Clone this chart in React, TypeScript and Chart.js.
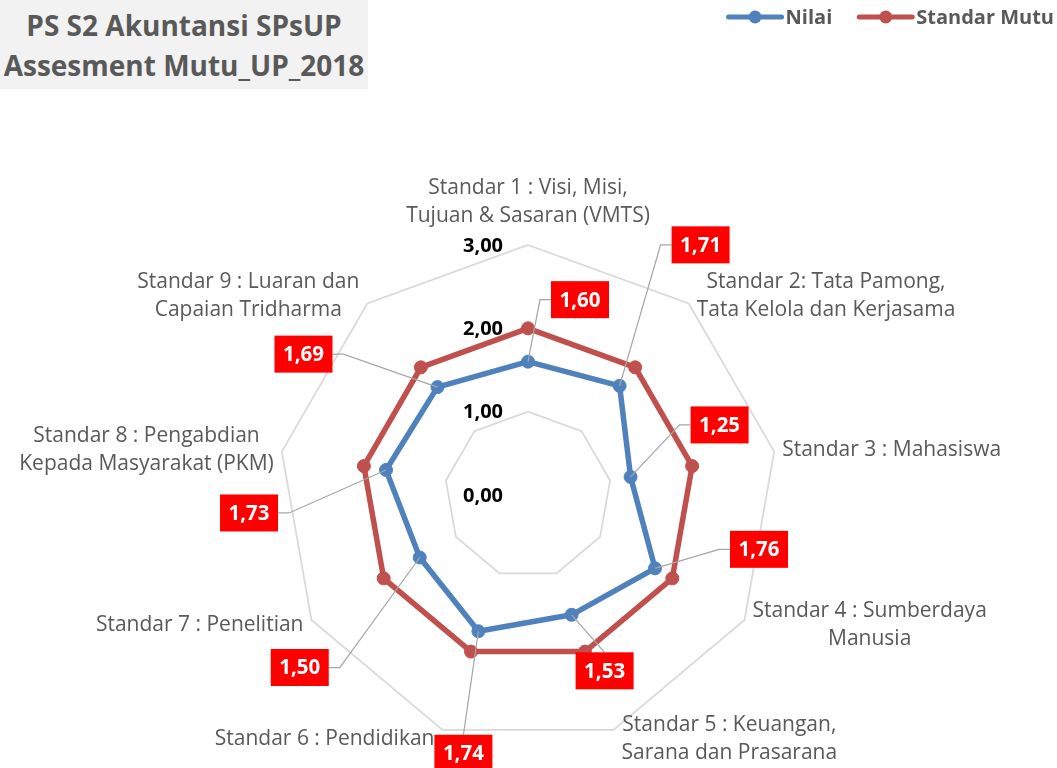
import React, { useEffect, useRef } from 'react';
import { Chart, registerables } from 'chart.js';

Chart.register(...registerables);

// ---- data ----
const categories: string[][] = [
  ['Standar 1 : Visi, Misi,', 'Tujuan & Sasaran (VMTS)'],
  ['Standar 2: Tata Pamong,', 'Tata Kelola dan Kerjasama'],
  ['Standar 3 : Mahasiswa'],
  ['Standar 4 : Sumberdaya', 'Manusia'],
  ['Standar 5 : Keuangan,', 'Sarana dan Prasarana'],
  ['Standar 6 : Pendidikan'],
  ['Standar 7 : Penelitian'],
  ['Standar 8 : Pengabdian', 'Kepada Masyarakat (PKM)'],
  ['Standar 9 : Luaran dan', 'Capaian Tridharma'],
];
const seriesNames = ['Nilai', 'Standar Mutu'];
const nilaiValues = [1.6, 1.71, 1.25, 1.76, 1.53, 1.74, 1.5, 1.73, 1.69];
const standarMutuValues = [2, 2, 2, 2, 2, 2, 2, 2, 2];
const tickMin = 0;
const tickMax = 3;
const tickStep = 1;

// ---- layout of data-label callouts (pixel offset from the point) ----
const labelOffsets: [number, number][] = [
  [52, -62],
  [81, -141],
  [89, -52],
  [104, -19],
  [33, 56],
  [-15, 122],
  [-120, 110],
  [-137, 43],
  [-134, -33],
];

const FONT = '"Open Sans", "Noto Sans", sans-serif';
const BLUE = '#4f81bd';
const RED = '#c0504d';
const fmt = (v: number) => v.toFixed(2).replace('.', ',');

const overlayPlugin = {
  id: 'overlay',
  beforeDatasetsDraw(chart: any) {
    const scale = chart.scales.r;
    const ctx = chart.ctx as CanvasRenderingContext2D;
    ctx.save();
    // tick labels
    ctx.font = `bold 20px ${FONT}`;
    ctx.fillStyle = '#000000';
    ctx.textAlign = 'right';
    ctx.textBaseline = 'middle';
    scale.ticks.forEach((t: any) => {
      const d = scale.getDistanceFromCenterForValue(t.value);
      ctx.fillText(fmt(t.value), scale.xCenter - 25, scale.yCenter - d + 1);
    });
    // category labels
    ctx.font = `21px ${FONT}`;
    ctx.fillStyle = '#595959';
    ctx.textAlign = 'center';
    const lh = 28;
    (chart.data.labels as any[]).forEach((lab, i) => {
      const lines: string[] = Array.isArray(lab) ? lab : [String(lab)];
      const p = scale.getPointPosition(i, scale.drawingArea);
      const ang = scale.getIndexAngle(i);
      const s = Math.sin(ang);
      const c = Math.cos(ang);
      const hw = Math.max(...lines.map((l) => ctx.measureText(l).width)) / 2;
      const hh = (lines.length * lh) / 2;
      let cx: number;
      let cy: number;
      if (Math.abs(s) < 0.2) {
        cx = p.x;
        cy = p.y - c * (hh + 15);
      } else {
        cx = p.x + Math.sign(s) * (hw + 8);
        cy = p.y - c * 10;
      }
      lines.forEach((l, k) => ctx.fillText(l, cx, cy - hh + lh * (k + 0.5)));
    });
    ctx.restore();
  },
  afterDatasetsDraw(chart: any) {
    const ctx = chart.ctx as CanvasRenderingContext2D;
    ctx.save();
    // data label callouts for "Nilai"
    const meta = chart.getDatasetMeta(0);
    const values: number[] = chart.data.datasets[0].data;
    ctx.font = `bold 20.5px ${FONT}`;
    ctx.textAlign = 'center';
    ctx.textBaseline = 'middle';
    meta.data.forEach((pt: any, i: number) => {
      const [dx, dy] = labelOffsets[i];
      const bx = pt.x + dx;
      const by = pt.y + dy;
      const text = fmt(values[i]);
      const w = Math.round(ctx.measureText(text).width + 17);
      const h = 37;
      ctx.strokeStyle = '#a6a6a6';
      ctx.lineWidth = 1.25;
      ctx.beginPath();
      ctx.moveTo(pt.x, pt.y);
      if (dy > 0 && Math.abs(dy) > Math.abs(dx)) {
        ctx.lineTo(bx, by - h / 2);
      } else {
        const side = dx > 0 ? -1 : 1;
        const ex = bx + (side * w) / 2;
        ctx.lineTo(ex + side * 11, by);
        ctx.lineTo(ex, by);
      }
      ctx.stroke();
      ctx.fillStyle = '#ff0000';
      ctx.fillRect(bx - w / 2, by - h / 2, w, h);
      ctx.fillStyle = '#ffffff';
      ctx.fillText(text, bx, by + 1);
    });

    // legend (top right)
    ctx.font = `bold 20px ${FONT}`;
    ctx.textAlign = 'left';
    ctx.textBaseline = 'middle';
    const ly = 17;
    const markerLen = 57;
    const gapText = 2;
    const gapItems = 25;
    const ds = chart.data.datasets;
    const widths = ds.map((d: any) => markerLen + gapText + ctx.measureText(d.label).width);
    const total = widths.reduce((a: number, b: number) => a + b, 0) + gapItems * (ds.length - 1);
    let x = 1054 - total;
    ds.forEach((d: any, i: number) => {
      ctx.strokeStyle = d.borderColor;
      ctx.lineWidth = 5;
      ctx.lineCap = 'round';
      ctx.beginPath();
      ctx.moveTo(x + 2, ly);
      ctx.lineTo(x + markerLen - 2, ly);
      ctx.stroke();
      ctx.fillStyle = d.borderColor;
      ctx.beginPath();
      ctx.arc(x + markerLen / 2, ly, 6.5, 0, Math.PI * 2);
      ctx.fill();
      ctx.fillStyle = '#595959';
      ctx.fillText(d.label, x + markerLen + gapText, ly + 1);
      x += widths[i] + gapItems;
    });
    ctx.restore();
  },
};

export default function App() {
  const canvasRef = useRef<HTMLCanvasElement | null>(null);

  useEffect(() => {
    if (!canvasRef.current) return;
    const chart = new Chart(canvasRef.current, {
      type: 'radar',
      data: {
        labels: categories,
        datasets: [
          {
            label: seriesNames[0],
            data: nilaiValues,
            borderColor: BLUE,
            backgroundColor: BLUE,
            pointBackgroundColor: BLUE,
            pointBorderColor: BLUE,
            borderWidth: 5.5,
            pointRadius: 6.5,
            pointBorderWidth: 1,
            borderJoinStyle: 'round',
            fill: false,
          },
          {
            label: seriesNames[1],
            data: standarMutuValues,
            borderColor: RED,
            backgroundColor: RED,
            pointBackgroundColor: RED,
            pointBorderColor: RED,
            borderWidth: 5.5,
            pointRadius: 6.5,
            pointBorderWidth: 1,
            borderJoinStyle: 'round',
            fill: false,
          },
        ],
      },
      options: {
        responsive: false,
        devicePixelRatio: 1,
        animation: false,
        layout: { padding: { top: 245, bottom: 23, left: 0, right: 0 } },
        plugins: {
          legend: { display: false },
          tooltip: { enabled: false },
        },
        scales: {
          r: {
            min: tickMin,
            max: tickMax,
            ticks: { stepSize: tickStep, display: false },
            grid: { color: '#d9d9d9', lineWidth: 1.75 },
            angleLines: { display: false },
            pointLabels: { display: false },
          },
        },
      } as any,
      plugins: [overlayPlugin],
    });
    return () => chart.destroy();
  }, []);

  return (
    <div style={{ position: 'fixed', left: 0, top: 0, width: 1057, height: 768, background: '#ffffff' }}>
      <canvas ref={canvasRef} width={1057} height={768} style={{ display: 'block' }} />
      <div
        style={{
          position: 'absolute',
          left: 0,
          top: 0,
          width: 368,
          height: 89,
          background: '#f2f2f2',
          color: '#595959',
          fontFamily: FONT,
          fontWeight: 'bold',
          fontSize: 28,
          lineHeight: '40px',
          textAlign: 'center',
          whiteSpace: 'nowrap',
          paddingTop: 5,
          boxSizing: 'border-box',
        }}
      >
        <div>PS S2 Akuntansi SPsUP</div>
        <div>Assesment Mutu_UP_2018</div>
      </div>
    </div>
  );
}
